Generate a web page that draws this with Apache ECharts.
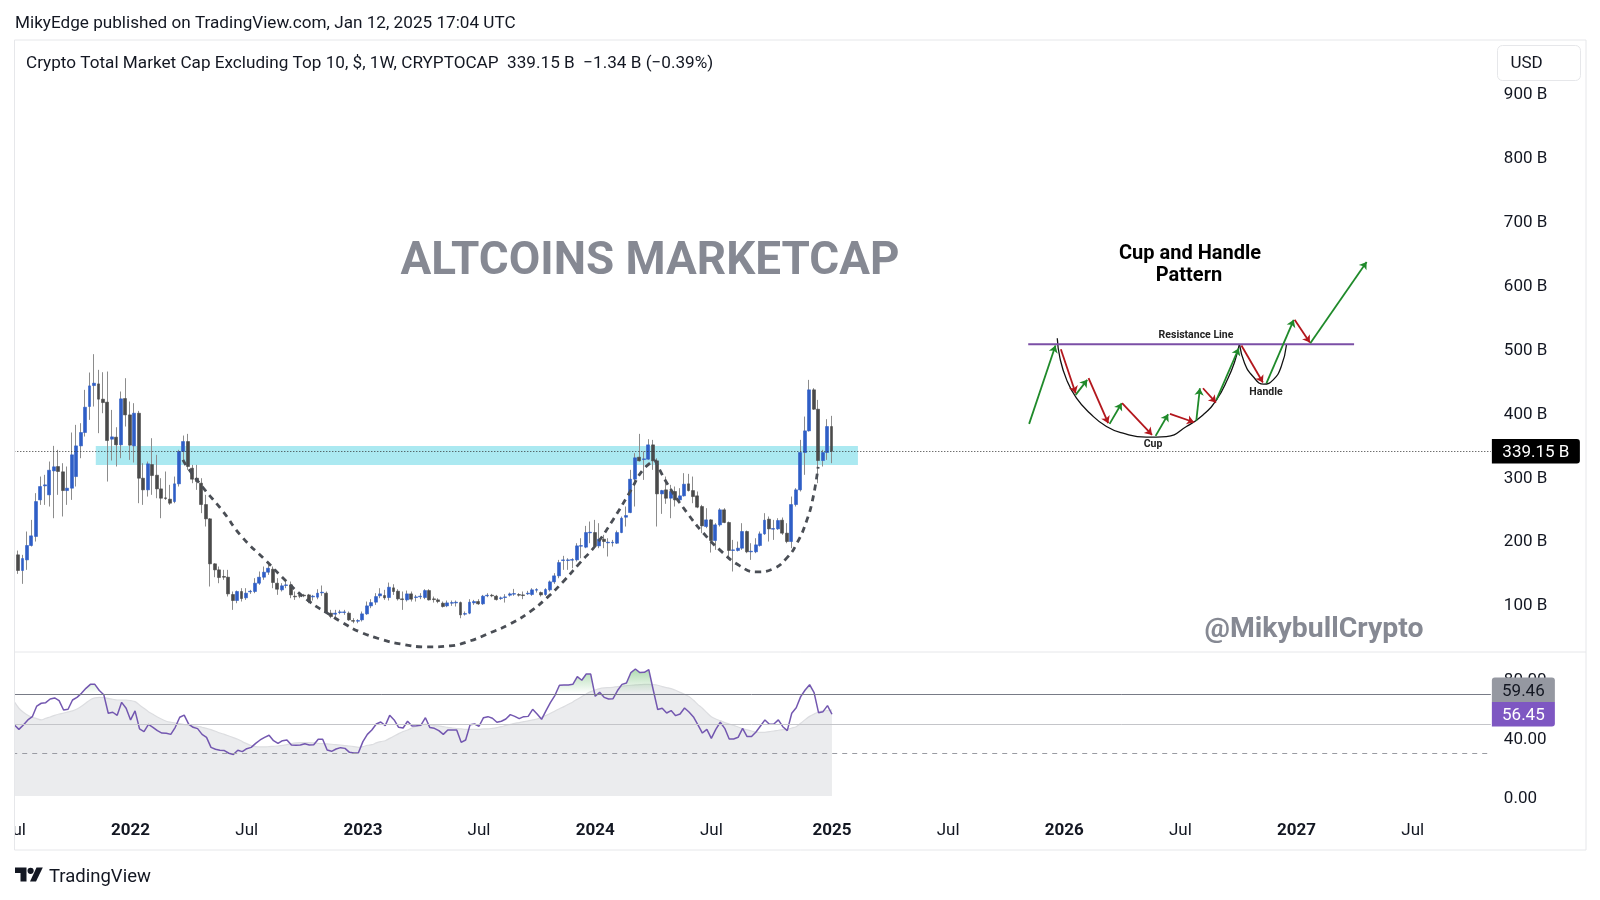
<!DOCTYPE html>
<html><head><meta charset="utf-8">
<script src="https://cdn.jsdelivr.net/npm/echarts@6/dist/echarts.min.js"></script>
<style>html,body{margin:0;padding:0;background:#fff}#c{width:1600px;height:900px}</style>
</head><body><div id="c"></div>
<script>
const opens=[177.1,152.6,169.2,191.7,205.8,263.1,285,271,308.5,315.3,
307,277.7,281.4,299.6,347.6,368.5,409.2,442,444.6,420.7,
416,358.1,361.2,349.2,421.7,396.1,347.6,398.7,297,278.8,
318.4,301.7,280.3,266.3,264.2,260.5,288.2,338.8,354.4,312.7,
297,289.2,255.8,233.4,163,153.6,143.2,142.1,115,105.6,
119.7,109.8,119.2,119.7,132.7,142.1,149.9,154.6,132.7,122.3,
129.1,130.1,112.4,113.4,114,114.4,111.3,110.8,117.6,117.1,
85.8,84.2,86.8,86.8,85.8,74.3,73.2,75.3,84.7,97.2,
103,112.9,113.4,110.3,125.4,120.2,108.2,106.6,116,110.3,
111.3,110.3,121.2,108.2,106.6,101.4,97.2,101.4,101.9,102.4,
84.2,85.8,101.9,104,100.4,112.9,113.9,112.4,108.7,110.3,
113.9,115.5,115,114.4,116,115,121.7,118.1,115,122.3,
134.8,144.2,168.2,168.2,168.7,169.2,190.6,189.1,211.5,212,
191.1,201.6,195.8,195.8,195.3,212,236,243.3,295.5,329.9,
326.2,326.8,349.2,324.2,272.5,278.8,265.7,276.2,263.1,269.4,
288.2,277.7,269.4,252.7,221.4,231.8,199.5,224,247.5,227.7,
183.9,183.9,187.5,213.6,181.8,181.8,191.7,209.9,232.9,217.2,
217.7,231.3,211,197.9,255.8,278.8,337.2,371.1,435.3,405,
324.7,337.2,377.9];
const closes=[152.6,171.3,191.7,206.8,260.5,284,286.6,309.5,314.8,307.5,
277.7,281.4,333.6,347.6,368.5,408.1,441.5,445.7,420.7,415.4,
356,361.7,349.2,421.2,396.1,348.7,398.7,297,278.8,319.5,
301.2,280.3,265.7,265.2,257.9,288.2,338.8,354.4,315.3,295.5,
291.8,255.8,233.4,163,153.6,141.6,142.1,116,105.6,119.7,
108.7,117.1,120.2,132.7,142.1,149.9,156.2,133.8,123.3,128.6,
130.1,114.5,111.4,112.4,112.9,104,112.4,117.1,118.6,86.8,
80.5,85.8,87.8,87.8,75.3,73.2,74.3,84.7,97.2,102.4,
111.8,116,109.8,126.4,119.7,108.2,107.1,116,107.7,111.3,
112.4,121.2,106.6,107.1,104,96.2,101.9,102.4,103,83.2,
85.2,103,104,100.4,112.4,113.9,112.9,107.1,109.8,111.3,
116,116.5,113.9,113.4,117.1,122.3,122.8,114.4,122.8,134.8,
144.2,165,169.2,169.2,169.7,191.1,191.6,212,212.5,191.1,
201.6,197.9,196.9,196.9,212,234.4,238.6,295.5,328.9,324.2,
327.3,349.2,324.2,272.5,277.7,265.7,276.2,263.1,269.4,287.6,
277.7,268.3,251.7,222.4,231.8,199.5,224,247.5,227.7,183.9,
184.9,187.5,213.6,181.8,182.8,192.7,209.9,231.3,217.7,218.3,
230.8,211,197.9,255.8,278.8,337.2,371.1,435.3,405,324.7,
337.2,377.9,339.15];
const lows=[147.3,131.7,153.6,190.1,197.9,255.3,255.3,252.7,234.4,271,
237.1,255.3,263.1,284,328.3,362.2,388.3,409.2,367.5,398.7,
291.8,324.7,315.3,328.3,377.9,325.7,321.6,257.9,255.3,268.3,
271,265.7,234.4,263.1,255.3,257.9,284,325.7,310.1,289.2,
278.8,242.3,221.4,127.5,142.1,132.7,138,111.9,91,101.4,
104,106.6,116,117.1,130.1,138,145.8,124.9,114.5,119.7,
124.9,109.3,106.6,109.3,110.8,101.4,105.6,107.6,112.9,84.7,
77.9,79.5,84.2,83.2,73.8,70.1,70.1,72.7,83.2,93.6,
98.8,109.2,106.6,105.6,114.4,105.6,91,104,104,104,
107.7,107.7,105.6,102.4,101.4,94.6,95.2,97.2,96.2,77.9,
82.1,84.2,98.8,98.8,98.8,110.8,110.8,105.6,106.6,102.4,
111.8,112.9,111.8,107.7,114.4,112.9,118.1,111.8,112.9,119.7,
131.7,140.5,153.6,153.6,156.2,166.6,171.8,187.5,195.3,190.1,
187.5,187.5,174.5,190.1,194.3,211,221.4,242.3,252.7,323.1,
294.4,325.7,310.1,221.4,241.2,256.9,234.4,252.7,257.9,268.3,
276.2,257.9,250.1,211,218.8,180.7,184.9,221.4,226.6,174.5,
151,182.3,184.9,179.7,169.2,179.7,190.1,208.4,197.9,200.5,
216.2,208.4,195.3,187.5,252.7,276.2,302.3,370,404,289.2,
315.3,325.7,320.5];
const highs=[183.8,177.1,213.6,231.8,273.6,299.6,302.3,323.1,347.6,341.4,
320.5,315.3,368.5,380.5,383.1,435.3,462.4,491.1,466.6,462.9,
464,403.9,376.8,432.7,453.5,417,414.4,402.4,320.5,323.1,
359.6,333.6,297,307.5,286.6,299.6,341.4,363.8,366.4,317.9,
317.9,297,271,234.4,164,158.8,153.6,153.6,119.7,121.3,
124.9,124.9,122.3,140.6,151,158.8,161.4,158.8,140.6,132.7,
135.3,135.3,119.7,117.1,116,116,114.4,123.3,129.1,119.7,
91,91,91,91,88.4,78,76.4,88.4,104,107.7,
117.1,124.9,122.3,133.7,131.1,123.3,119.7,121.2,119.7,114.4,
117.1,123.3,123.3,111.8,109.2,104,105.6,105.6,105.6,104,
88.4,107.7,106.6,107.7,114.4,117.1,116,114.4,111.8,115.5,
118.1,123.8,117.1,119.7,120.7,124.9,124.9,119.7,124.9,136.9,
148.4,169.2,175.5,171.8,171.8,195.3,203.1,222.4,229.2,231.8,
226.6,208.4,203.1,200.5,215.1,237.1,252.7,310.1,336.2,366.4,
338.8,358.1,357,328.3,278.8,299.6,286.6,284,281.4,304.9,
303.8,299.6,276.2,255.3,250.1,232.9,226.6,250.1,250.1,229.2,
200.5,197.9,226.6,215.1,195.3,203.1,213.6,242.3,237.1,231.8,
234.4,235.5,226.6,268.3,281.4,357,393.5,450.9,437.9,419.6,
341.4,389.4,394.6];
// the RSI panes start one week earlier than the candles (that week sits at the left frame)
const rsiValues=[49.2,46.2,49.2,52.6,54.8,62.0,63.9,64.3,66.8,67.5,65.7,
59.3,59.8,66.1,67.9,70.6,74.0,76.7,76.7,72.5,69.7,
57.1,57.8,55.7,64.5,60.5,52.6,58.7,46.5,44.7,49.6,
47.6,45.3,43.7,43.5,42.8,47.6,54.4,55.9,49.8,47.6,
46.7,42.8,40.8,34.0,32.7,32.0,31.8,30.0,29.1,32.0,
31.1,33.1,34.0,36.7,39.0,40.8,42.2,38.5,36.7,38.5,
39.0,35.6,35.4,35.6,36.5,35.6,35.8,39.5,39.5,32.2,
31.3,32.9,33.8,33.3,30.6,30.2,30.4,37.9,42.8,45.8,
49.8,51.2,48.7,55.7,52.6,47.6,47.1,51.7,48.5,48.7,
49.0,54.1,47.4,46.9,45.3,42.8,45.8,45.8,45.8,37.4,
39.0,49.4,49.8,48.3,54.1,54.8,53.7,51.0,51.7,53.2,
56.2,55.0,53.5,54.8,55.0,59.8,56.6,53.0,58.9,64.5,
69.3,76.1,76.3,76.3,76.7,82.0,79.5,83.7,83.7,68.6,
71.3,67.9,66.8,67.0,72.5,76.7,77.6,84.7,87.1,84.7,
84.9,86.7,72.9,59.6,60.5,57.3,58.9,55.5,56.6,60.7,
58.0,54.6,49.2,43.7,46.2,40.1,46.2,51.0,46.9,39.7,
39.7,40.8,46.9,41.3,41.3,44.4,48.5,52.6,49.6,49.8,
52.6,48.0,45.3,57.1,60.9,68.4,72.9,76.5,71.1,57.5,
58.2,62.3,56.45];
const rsiMa=[64.8,60.5,57.8,55.7,54.4,53.5,52.6,53.7,54.6,55.7,56.6,
57.3,58.0,58.7,60.0,61.8,64.1,66.3,67.5,67.9,67.7,
67.2,66.6,66.1,66.1,66.1,65.7,65.0,62.7,60.5,58.2,
56.4,54.6,53.0,51.7,51.0,50.5,50.1,49.4,49.0,48.5,
48.3,47.6,46.9,46.0,44.9,43.7,42.8,41.7,40.6,39.5,
37.9,36.5,35.2,34.5,34.3,34.3,34.5,34.7,34.9,35.4,
35.8,36.5,37.0,37.2,37.2,37.2,37.0,36.7,36.5,36.3,
36.1,35.8,35.6,35.2,34.9,34.5,34.0,34.5,35.4,35.8,
37.0,37.9,38.5,40.1,41.7,43.3,44.7,45.8,47.1,48.3,
49.2,49.8,49.4,48.7,48.5,48.0,47.6,47.1,46.7,46.5,
46.2,46.2,46.2,46.2,46.5,46.5,46.9,47.4,48.0,48.9,
49.6,50.3,50.8,51.4,51.9,52.6,53.2,54.4,55.7,57.1,
58.7,60.2,61.6,63.2,64.8,66.6,68.4,70.2,71.8,72.9,
73.8,74.3,74.5,74.7,75.2,75.4,75.8,76.1,76.3,76.5,
76.7,76.7,76.5,76.1,75.2,74.5,73.8,72.7,71.3,70.0,
68.4,65.9,63.0,60.5,57.5,54.8,53.2,52.1,50.8,49.8,
48.9,47.8,46.7,45.8,45.1,44.4,44.2,44.2,44.7,45.1,
45.6,46.0,46.2,47.1,48.0,50.3,52.8,55.0,56.6,58.0,
58.7,58.9,59.46];
// drawn annotations, as [week index counted from the first candle, value in B]
const cupLeft=[[36.9,325.7],[38,313.2],[41.8,278.7],[45.6,247.4],[50.1,205.2],[55.3,169.2],[60.4,133.2],[65.3,103.4],[69.1,86.2],[72.7,70.6],[76.5,56.5],[81.7,44],[85.5,37.7],[91.5,33],[96.6,34.6],[101.1,42.4],[105.6,54.9],[110.1,69],[114.5,87.8],[118.3,109.7],[121.9,134.7],[125.7,164.5],[129.3,192.6],[133.1,231.8],[136.9,275.6],[139.8,310],[142.5,325.7]];
const cupRight=[[142.5,325.7],[145.4,286.6],[149.7,242.7],[153.3,211.4],[157,184.8],[161.5,159.8],[165.3,150.4],[168.9,155.1],[172,172.3],[174.3,195.8],[176.5,231.8],[177.9,267.8],[179,314.7]];
const sketchCup=[[232.5,516.1],[233.1,484.8],[234.6,450.9],[236.8,422.2],[239.8,398.7],[243.5,377.9],[247.2,367.4],[252.4,361.2],[256.9,362.2],[261.4,377.9],[265.1,396.1],[268.1,419.6],[270.7,453.5],[272.2,479.6],[273.2,505.6]];
const sketchHandle=[[273.3,505.6],[274.4,477],[276.3,456.1],[278.7,444.1],[280.8,450.9],[282.6,471.7],[283.8,506.7]];
const sketchResistance=[[226,506.7],[298.9,506.7]];
const greenArrows=[[[226.2,382],[232.1,504.6]],[[236.6,427.4],[239.2,450.9]],[[244.2,382],[246.9,414.4]],[[254.5,363.2],[257.3,397.2]],[[263.6,387.2],[264.4,437.8]],[[268.1,419.6],[273.1,500.4]],[[279.3,445.7],[285.4,544.8]],[[289.1,508.3],[301.7,635.5]]];
const redArrows=[[[233.3,498.9],[236.6,430]],[[239.5,453.5],[243.9,383.1]],[[247,414.4],[253.7,364.8]],[[257.7,397.7],[263.1,384.6]],[[265.1,437.8],[268,415.4]],[[273.7,504.6],[278.5,446.7]],[[285.6,544.8],[289,509.3]]];
const bandWeeks=[17.4,187.9];
const bandValues=[317.8,347.6];
const tickLabels=['Jul','2022','Jul','2023','Jul','2024','Jul','2025','Jul','2026','Jul','2027','Jul'];
const tickWeeks=[0,26,52,78,104,130,156,183,209,235,261,287,313];
const lastPrice=339.15, rsiLast=56.45, maLast=59.46;
const headerText='MikyEdge published on TradingView.com, Jan 12, 2025 17:04 UTC';
const legendText='Crypto Total Market Cap Excluding Top 10, $, 1W, CRYPTOCAP  339.15 B  \u22121.34 B (\u22120.39%)';

const totalWeeks=331;
const weeks=[];
const startDate=Date.UTC(2021,6,5);
for(let i=0;i<totalWeeks;i++){weeks.push(new Date(startDate+i*7*864e5).toISOString().slice(0,10));}
const FONT='Roboto, "Noto Sans", sans-serif';
const INK='#131722', FRAME='#e6e7ea';
const EMPTY=['-','-','-','-'];
const allCandles=[EMPTY].concat(opens.map((o,i)=>[o,closes[i],lows[i],highs[i]]));
const bodies=[EMPTY].concat(opens.map((o,i)=>[o,closes[i],Math.min(o,closes[i]),Math.max(o,closes[i])]));
const GL=11.3, GW=1479.57;
const tag=(txt,w,bg,fg,off,r)=>({show:true,position:'end',distance:0,offset:off||[1,0],formatter:'{a|'+txt+'}',
  rich:{a:{width:w,height:21.5,lineHeight:21.5,padding:[3,0,0,0],align:'center',backgroundColor:bg,borderRadius:r||0,color:fg,fontFamily:FONT,fontSize:17}}});
const text=(t,x,y,font,fill,align)=>({type:'text',silent:true,z:60,style:{text:t,x:x,y:y,font:font,fill:fill,textAlign:align||'left',textVerticalAlign:'middle',textBaseline:'middle'}});
const line=(x1,y1,x2,y2)=>({type:'line',silent:true,z:50,shape:{x1,y1,x2,y2},style:{stroke:FRAME,lineWidth:1}});
const HIDDEN='rgba(0,0,0,0)';
const axisRich=(pad)=>({p:{padding:[pad,0,0,0],color:INK,fontFamily:FONT,fontSize:17}});

const option={
  animation:false,backgroundColor:'#fff',
  grid:[{left:GL,width:GW,top:29,height:639},{left:GL,width:GW,top:650,height:147.5}],
  xAxis:[
    {type:'category',gridIndex:0,data:weeks,show:false},
    {type:'value',gridIndex:0,min:-1.5,max:totalWeeks-1.5,show:false},
    {type:'category',gridIndex:1,data:weeks,axisLine:{show:false},axisTick:{show:false},splitLine:{show:false},
      axisLabel:{show:true,interval:(i)=>tickWeeks.includes(i),margin:25,color:INK,fontFamily:FONT,fontSize:17,hideOverlap:false,
        formatter:(v,i)=>{const t=tickLabels[tickWeeks.indexOf(i)];return /^\d/.test(t)?'{y|'+t+'}':t;},
        rich:{y:{fontWeight:'bold',fontFamily:FONT,fontSize:17,color:INK}}}}
  ],
  yAxis:[
    {type:'value',gridIndex:0,position:'right',min:0,max:1000,interval:100,axisLine:{show:false},axisTick:{show:false},splitLine:{show:false},
      axisLabel:{margin:13,color:INK,fontFamily:FONT,fontSize:17,rich:axisRich(4),formatter:(v)=>(v===0||v===1000)?'':'{p|'+v+' B}'}},
    {type:'value',gridIndex:1,position:'right',min:0,max:100,interval:40,axisLine:{show:false},axisTick:{show:false},splitLine:{show:false},
      axisLabel:{margin:13,color:INK,fontFamily:FONT,fontSize:17,rich:axisRich(3),formatter:(v)=>v>80?'':'{p|'+v.toFixed(2)+'}'}}
  ],
  series:[
    {name:'Wicks',type:'candlestick',xAxisIndex:0,yAxisIndex:0,data:allCandles,barWidth:1,silent:true,z:2,
      itemStyle:{color:'#8c8c8c',color0:'#8c8c8c',borderColor:'#8c8c8c',borderColor0:'#8c8c8c',borderWidth:1},
      markLine:{silent:true,symbol:'none',animation:false,data:[{yAxis:lastPrice,lineStyle:{color:'#333',type:[1,2],width:1},label:tag('339.15 B',88,'#000','#fff',null,[0,3,3,0])}]}},
    {name:'Crypto Total Market Cap Excluding Top 10',type:'candlestick',xAxisIndex:0,yAxisIndex:0,data:bodies,barWidth:3.4,silent:true,z:3,
      itemStyle:{color:'#2f5ec6',color0:'#4a4a4a',borderColor:'#2f5ec6',borderColor0:'#4a4a4a',borderWidth:0.6}},
    {name:'Band',type:'line',xAxisIndex:1,yAxisIndex:0,data:[],z:4,silent:true,
      markArea:{silent:true,animation:false,itemStyle:{color:'rgba(0,188,212,0.33)'},
        data:[[{coord:[bandWeeks[0],bandValues[1]]},{coord:[bandWeeks[1],bandValues[0]]}]]}},
    {name:'Cup',type:'line',xAxisIndex:1,yAxisIndex:0,data:cupLeft,smooth:true,showSymbol:false,silent:true,z:5,lineStyle:{color:'#4a4e55',width:2.8,type:[6,5]}},
    {name:'Handle',type:'line',xAxisIndex:1,yAxisIndex:0,data:cupRight,smooth:true,showSymbol:false,silent:true,z:5,lineStyle:{color:'#4a4e55',width:2.8,type:[6,5]}},
    {name:'Sketch cup',type:'line',xAxisIndex:1,yAxisIndex:0,data:sketchCup,smooth:true,showSymbol:false,silent:true,z:5,lineStyle:{color:'#111',width:1.3}},
    {name:'Sketch handle',type:'line',xAxisIndex:1,yAxisIndex:0,data:sketchHandle,smooth:true,showSymbol:false,silent:true,z:5,lineStyle:{color:'#111',width:1.3}},
    {name:'Resistance',type:'line',xAxisIndex:1,yAxisIndex:0,data:sketchResistance,showSymbol:false,silent:true,z:5,lineStyle:{color:'#7b4fa6',width:2}},
    {name:'Up moves',type:'lines',coordinateSystem:'cartesian2d',xAxisIndex:1,yAxisIndex:0,silent:true,z:6,symbol:['none','arrow'],symbolSize:7,
      lineStyle:{color:'#1f8a2a',width:1.8,opacity:1},data:greenArrows.map(c=>({coords:c}))},
    {name:'Down moves',type:'lines',coordinateSystem:'cartesian2d',xAxisIndex:1,yAxisIndex:0,silent:true,z:6,symbol:['none','arrow'],symbolSize:7,
      lineStyle:{color:'#b3171d',width:1.8,opacity:1},data:redArrows.map(c=>({coords:c}))},
    {name:'RSI MA',type:'line',xAxisIndex:2,yAxisIndex:1,data:rsiMa,showSymbol:false,silent:true,z:2,smooth:0.3,
      lineStyle:{color:'#dcdde0',width:1.2},areaStyle:{color:'#ebecee',opacity:1,origin:1}},
    {name:'RSI',type:'line',xAxisIndex:2,yAxisIndex:1,data:rsiValues,showSymbol:false,silent:true,z:4,
      lineStyle:{color:'#7357b0',width:1.5},
      areaStyle:{origin:70,opacity:1,color:new echarts.graphic.LinearGradient(0,650,0,797.5,[
        {offset:0,color:'rgba(76,175,80,0.45)'},{offset:0.13,color:'rgba(76,175,80,0.45)'},
        {offset:0.295,color:'rgba(76,175,80,0)'},{offset:1,color:'rgba(76,175,80,0)'}],true)},
      markLine:{silent:true,symbol:'none',animation:false,label:{show:false},data:[
        {yAxis:70,lineStyle:{color:'#787b86',type:'solid',width:1}},
        {yAxis:50,lineStyle:{color:'#c4c5c9',type:'solid',width:1}},
        {yAxis:30,lineStyle:{color:'#9a9ca3',type:[5,5],width:1}},
        {yAxis:maLast,lineStyle:{color:HIDDEN,width:0},label:tag('59.46',63,'#9598a1',INK,[1,-20],[3,3,0,0])},
        {yAxis:rsiLast,lineStyle:{color:HIDDEN,width:0},label:tag('56.45',63,'#7e57c2','#fff',[1,0],[0,0,3,0])}
      ]}}
  ],
  graphic:{elements:[
    {type:'rect',silent:true,z:49,shape:{x:0,y:41,width:14,height:808},style:{fill:'#fff'}},
    line(14.5,40,1586,40),line(14.5,40,14.5,850),line(1586,40,1586,850),line(14.5,850,1586,850),line(14.5,652,1586,652),
    text(headerText,15,24,'17.15px '+FONT,INK),
    text(legendText,26,63.5,'17.15px '+FONT,INK),
    {type:'rect',silent:true,z:55,shape:{x:1497.5,y:45.5,width:83,height:35,r:5},style:{fill:'#fff',stroke:FRAME,lineWidth:1}},
    text('USD',1510.5,64,'17px '+FONT,INK),
    text('ALTCOINS MARKETCAP',650,263,'bold 45.8px '+FONT,'#868993','center'),
    text('@MikybullCrypto',1314,630,'bold 28.4px '+FONT,'#868993','center'),
    text('Cup and Handle',1190,254,'bold 20px '+FONT,'#000','center'),
    text('Pattern',1189,276,'bold 20px '+FONT,'#000','center'),
    text('Resistance Line',1196,335,'bold 10.5px '+FONT,'#222','center'),
    text('Handle',1266,392,'bold 10.5px '+FONT,'#222','center'),
    text('Cup',1153,444,'bold 10.5px '+FONT,'#222','center'),
    {type:'polygon',silent:true,z:60,shape:{points:[[15,867.5],[26.5,867.5],[26.5,881.5],[20.5,881.5],[20.5,873],[15,873]]},style:{fill:INK}},
    {type:'polygon',silent:true,z:60,shape:{points:[[36.5,867.5],[42.8,867.5],[36,881.5],[30,881.5]]},style:{fill:INK}},
    {type:'circle',silent:true,z:60,shape:{cx:30.6,cy:870.8,r:3.1},style:{fill:INK}},
    text('TradingView',49,877,'18.5px '+FONT,INK)
  ]}
};
const chart=echarts.init(document.getElementById('c'),null,{renderer:'canvas',width:1600,height:900});
chart.setOption(option);
</script></body></html>
